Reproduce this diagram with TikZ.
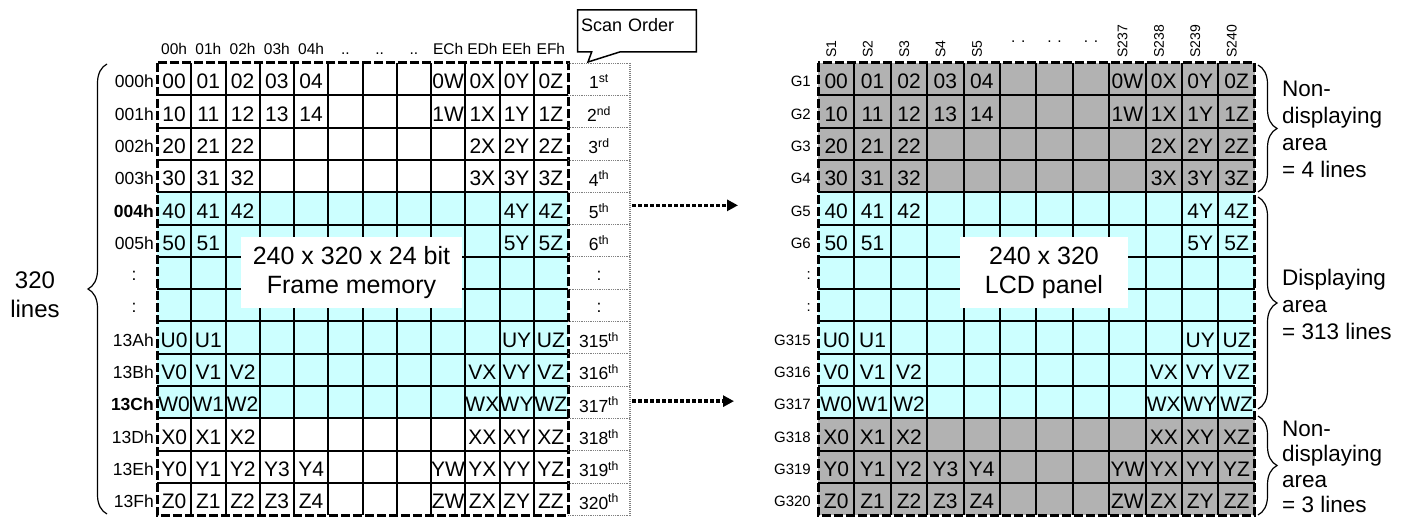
\documentclass[tikz,border=0pt]{standalone}
\usepackage{fontspec}
\setmainfont{Liberation Sans}
\usepackage{tikz}
\usetikzlibrary {decorations.pathreplacing, arrows.meta}
\usetikzlibrary {shapes.callouts}

\definecolor{memCyan}{RGB}{204,255,255}
\definecolor{lcdGray}{RGB}{178,178,178}

\newcommand\gridTop{63}
\newcommand\rowH{32.3}
\newcommand\memX{157}
\newcommand\memW{34.25}
\newcommand\lcdX{818}
\newcommand\lcdW{36.4}
\newcommand\orderW{62}
\newcommand{\rowY}[1]{\gridTop + (#1 + 0.5) * \rowH + 2.5}

% text of the cells, the same in memory and panel
\newcommand\cellRows{%
    0/{0/00,1/01,2/02,3/03,4/04,8/0W,9/0X,10/0Y,11/0Z},%
    1/{0/10,1/11,2/12,3/13,4/14,8/1W,9/1X,10/1Y,11/1Z},%
    2/{0/20,1/21,2/22,9/2X,10/2Y,11/2Z},%
    3/{0/30,1/31,2/32,9/3X,10/3Y,11/3Z},%
    4/{0/40,1/41,2/42,10/4Y,11/4Z},%
    5/{0/50,1/51,10/5Y,11/5Z},%
    8/{0/U0,1/U1,10/UY,11/UZ},%
    9/{0/V0,1/V1,2/V2,9/VX,10/VY,11/VZ},%
    10/{0/W0,1/W1,2/W2,9/WX,10/WY,11/WZ},%
    11/{0/X0,1/X1,2/X2,9/XX,10/XY,11/XZ},%
    12/{0/Y0,1/Y1,2/Y2,3/Y3,4/Y4,8/YW,9/YX,10/YY,11/YZ},%
    13/{0/Z0,1/Z1,2/Z2,3/Z3,4/Z4,8/ZW,9/ZX,10/ZY,11/ZZ}%
}

\newcommand{\cellGrid}[2]{
    \foreach \row in {1,...,13}
        \draw[gridLine] (#1, {\gridTop + \row * \rowH}) -- ++({12 * #2}, 0);
    \foreach \col in {1,...,11}
        \draw[gridLine] ({#1 + \col * #2}, \gridTop) -- ++(0, {14 * \rowH});
    \draw[frameLine] (#1, \gridTop) rectangle ++({12 * #2}, {14 * \rowH});
}
\newcommand{\cellText}[3]{
    \foreach \row/\items in \cellRows
        \foreach \col/\txt in \items
            \node[cellNum] (#1-\row-\col) at ({#2 + (\col + 0.5) * #3}, {\rowY{\row}}) {\txt};
}

\tikzset{
    gridLine/.style={line width=2pt},
    frameLine/.style={line width=3pt, dash pattern=on 9pt off 3pt},
    cellNum/.style={inner sep=0, font=\fontsize{21}{24}\selectfont},
    rowLabel/.style={anchor=east, inner sep=0, font=\fontsize{17.5}{20}\selectfont},
    gateLabel/.style={anchor=east, inner sep=0, font=\fontsize{15}{18}\selectfont},
    headLabel/.style={anchor=base, inner sep=0, font=\fontsize{15.5}{18}\selectfont},
    sigLabel/.style={anchor=base west, rotate=90, inner sep=0, font=\fontsize{14}{17}\selectfont},
    orderNum/.style={minimum width=62pt, inner xsep=0, font=\fontsize{17.5}{20}\selectfont},
    orderSep/.style={gray, line width=0.8pt, densely dotted},
    orderEdge/.style={gray, line width=2pt, dash pattern=on 1pt off 1pt},
    scanFlow/.style={line width=3.5pt, dash pattern=on 3.5pt off 2.5pt, -{Triangle[length=11pt, width=11pt]}, shorten <=2pt},
    areaBox/.style={fill=white, align=center, minimum height=71pt, font=\fontsize{25}{29}\selectfont},
    areaNote/.style={anchor=west, align=left, inner sep=0, font=\fontsize{22.5}{27}\selectfont},
    sideBrace/.style={decorate, decoration={brace, amplitude=19pt}, line width=1.2pt},
    scanTitle/.style={rectangle callout, draw, line width=1.5pt, callout pointer width=28pt,
        minimum height=42pt, text width=112pt, text depth=12pt, align=left, font=\fontsize{18}{22}\selectfont}
}

\begin{document}
\begin{tikzpicture}[x=1pt, y=-1pt]
    \useasboundingbox (0,0) rectangle (1408,524);

    % frame memory
    \fill[memCyan] (\memX, {\gridTop + 4 * \rowH}) rectangle ++({12 * \memW}, {7 * \rowH});
    \cellGrid{\memX}{\memW}
    \cellText{mem}{\memX}{\memW}

    \foreach \col/\lbl in {0/00h,1/01h,2/02h,3/03h,4/04h,5/{..},6/{..},7/{..},8/ECh,9/EDh,10/EEh,11/EFh}
        \node[headLabel] (mem-head-\col) at ({\memX + (\col + 0.5) * \memW}, 55) {\lbl};
    \foreach \row/\lbl in {0/000h,1/001h,2/002h,3/003h,4/\textbf{004h},5/005h,8/13Ah,9/13Bh,10/\textbf{13Ch},11/13Dh,12/13Eh,13/13Fh}
        \node[rowLabel] (mem-addr-\row) at (154, {\rowY{\row}}) {\lbl};
    \foreach \row in {6,7}
        \node[rowLabel, anchor=center] (mem-addr-\row) at (134, {\rowY{\row}}) {:};

    \node[areaBox, minimum width=221pt] (mem-title) at (351.5, 272.5) {240 x 320 x 24 bit\\Frame memory};

    \draw[sideBrace] (107,514) -- (107,64);
    \node[align=center, font=\fontsize{24}{29}\selectfont] (line-count) at (35, 295) {320\\lines};

    % scan order column
    \foreach \row in {0,...,14}
        \draw[orderSep] ({\memX + 12 * \memW}, {\gridTop + \row * \rowH}) -- ++(\orderW, 0);
    \draw[orderEdge] ({\memX + 12 * \memW + \orderW}, \gridTop) -- ++(0, {14 * \rowH});
    \foreach \row/\nth/\sfx in {0/1/st,1/2/nd,2/3/rd,3/4/th,4/5/th,5/6/th,8/315/th,9/316/th,10/317/th,11/318/th,12/319/th,13/320/th}
        \node[orderNum] (ord-\row) at ({\memX + 12 * \memW + \orderW / 2}, {\rowY{\row}}) {\nth\textsuperscript{\sfx}};
    \foreach \row in {6,7}
        \node[orderNum] (ord-\row) at ({\memX + 12 * \memW + \orderW / 2}, {\rowY{\row}}) {:};

    \node[scanTitle, callout absolute pointer={(588,62)}] (scan-title) at (637,31) {Scan Order};

    % lcd panel
    \fill[lcdGray] (\lcdX, \gridTop) rectangle ++({12 * \lcdW}, {4 * \rowH});
    \fill[memCyan] (\lcdX, {\gridTop + 4 * \rowH}) rectangle ++({12 * \lcdW}, {7 * \rowH});
    \fill[lcdGray] (\lcdX, {\gridTop + 11 * \rowH}) rectangle ++({12 * \lcdW}, {3 * \rowH});
    \cellGrid{\lcdX}{\lcdW}
    \cellText{lcd}{\lcdX}{\lcdW}

    \foreach \col/\lbl in {0/S1,1/S2,2/S3,3/S4,4/S5,8/S237,9/S238,10/S239,11/S240}
        \node[sigLabel] (sig-\col) at ({\lcdX + (\col + 0.5) * \lcdW}, 58) {\lbl};
    \foreach \col in {5,6,7}
        \node[headLabel, anchor=center] (sig-\col) at ({\lcdX + (\col + 0.5) * \lcdW}, 42) {. .};
    \foreach \row/\lbl in {0/G1,1/G2,2/G3,3/G4,4/G5,5/G6,6/:,7/:,8/G315,9/G316,10/G317,11/G318,12/G319,13/G320}
        \node[gateLabel] (gate-\row) at (811, {\rowY{\row}}) {\lbl};

    \node[areaBox, minimum width=168pt] (lcd-title) at (1044, 272.5) {240 x 320\\LCD panel};

    \draw[sideBrace] (1258,65) -- (1258,192);
    \draw[sideBrace] (1258,197) -- (1258,409);
    \draw[sideBrace] (1258,416) -- (1258,515);
    \node[areaNote] (top-note) at (1282,129) {Non-\\displaying\\area\\= 4 lines};
    \node[areaNote] (mid-note) at (1282,304) {Displaying\\area\\= 313 lines};
    \node[areaNote, font=\fontsize{22.5}{25.5}\selectfont] (bot-note) at (1282,467) {Non-\\displaying\\area\\= 3 lines};

    % rows handed to the panel
    \coordinate (panel-in-4) at (738, {\rowY{4} - 5.5});
    \coordinate (panel-in-10) at (734, {\rowY{10} - 3.5});
    \draw[scanFlow] (ord-4.east |- panel-in-4) -- (panel-in-4);
    \draw[scanFlow] (ord-10.east |- panel-in-10) -- (panel-in-10);
\end{tikzpicture}
\end{document}
